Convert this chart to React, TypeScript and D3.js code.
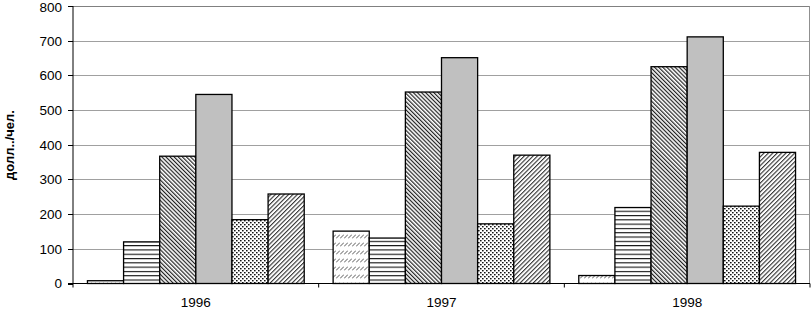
import React from "react";
import * as d3 from "d3";

const categories = ["1996", "1997", "1998"];
const series1 = [8, 151, 23];
const series2 = [120, 131, 219];
const series3 = [367, 552, 625];
const series4 = [545, 651, 711];
const series5 = [184, 172, 223];
const series6 = [258, 370, 378];
const yTicks = [0, 100, 200, 300, 400, 500, 600, 700, 800];
const yLabel = "долл../чел.";

const allSeries = [series1, series2, series3, series4, series5, series6];
const fills = ["url(#p1)", "url(#p2)", "url(#p3)", "#c0c0c0", "url(#p5)", "url(#p6)"];

export default function App() {
  const W = 811, H = 310;
  const left = 73, right = 810, top = 6, bottom = 283.5;
  const x0 = d3.scaleBand<string>().domain(categories).range([left, right]).paddingInner(0).paddingOuter(0);
  const cw = x0.bandwidth();
  const bw = cw / (6 + 0.8);
  const gap = (cw - 6 * bw) / 2;
  const y = d3.scaleLinear().domain([0, 800]).range([bottom, top]);
  const font = "Arial, 'Liberation Sans', sans-serif";

  return (
    <svg width={W} height={H} style={{ position: "absolute", left: 0, top: 0, background: "#fff" }}>
      <defs>
        <pattern id="p1" patternUnits="userSpaceOnUse" width="4" height="8">
          <rect width="4" height="8" fill="#fff" />
          <path d="M0,6.5 L4,2.5" stroke="#444" strokeWidth="0.9" />
        </pattern>
        <pattern id="p2" patternUnits="userSpaceOnUse" width="4" height="4.3">
          <rect width="4" height="4.3" fill="#fff" />
          <rect y="0" width="4" height="1.1" fill="#111" />
        </pattern>
        <pattern id="p3" patternUnits="userSpaceOnUse" width="2.9" height="10" patternTransform="rotate(-45)">
          <rect width="2.9" height="10" fill="#fff" />
          <rect width="1.2" height="10" fill="#222" />
        </pattern>
        <pattern id="p5" patternUnits="userSpaceOnUse" width="4" height="4">
          <rect width="4" height="4" fill="#fff" />
          <rect x="0" y="0" width="1.6" height="1.4" fill="#111" />
          <rect x="2" y="2" width="1.6" height="1.4" fill="#111" />
        </pattern>
        <pattern id="p6" patternUnits="userSpaceOnUse" width="3.1" height="10" patternTransform="rotate(45)">
          <rect width="3.1" height="10" fill="#fff" />
          <rect width="1.1" height="10" fill="#333" />
        </pattern>
      </defs>

      {/* gridlines */}
      {yTicks.filter(t => t > 0).map(t => (
        <line key={t} x1={left} x2={right} y1={Math.round(y(t)) + 0.5} y2={Math.round(y(t)) + 0.5} stroke={t === 800 ? "#808080" : "#a0a0a0"} strokeWidth={1} />
      ))}
      {/* right border */}
      <line x1={809.5} x2={809.5} y1={y(800)} y2={bottom} stroke="#909090" strokeWidth={1} />

      {/* bars */}
      {categories.map((c, ci) => (
        <g key={c}>
          {allSeries.map((s, si) => {
            const bx = (x0(c) as number) + gap + si * bw;
            const v = s[ci];
            return (
              <rect key={si} x={bx} y={y(v)} width={bw} height={bottom - y(v)} fill={fills[si]} stroke="#000" strokeWidth={1.3} />
            );
          })}
        </g>
      ))}

      {/* axes */}
      <line x1={left} x2={left} y1={top} y2={bottom + 4} stroke="#000" strokeWidth={1} />
      <line x1={left - 5} x2={right} y1={bottom} y2={bottom} stroke="#000" strokeWidth={1} />
      {yTicks.map(t => (
        <g key={t}>
          <line x1={left - 5} x2={left} y1={Math.round(y(t)) + 0.5} y2={Math.round(y(t)) + 0.5} stroke="#000" />
          <text x={62} y={Math.max(y(t), 7)} dy="0.36em" textAnchor="end" fontFamily={font} fontSize={13.5} fill="#000">{t}</text>
        </g>
      ))}
      {categories.map((c, ci) => (
        <g key={c}>
          <line x1={(x0(c) as number) + cw} x2={(x0(c) as number) + cw} y1={bottom} y2={bottom + 4} stroke="#000" />
          <text x={(x0(c) as number) + cw / 2} y={306.5} textAnchor="middle" fontFamily={font} fontSize={13.5} fill="#000">{c}</text>
        </g>
      ))}
      <text transform={`translate(14,145) rotate(-90)`} textAnchor="middle" fontFamily={font} fontSize={13} fontWeight="bold" fill="#000">{yLabel}</text>
    </svg>
  );
}
